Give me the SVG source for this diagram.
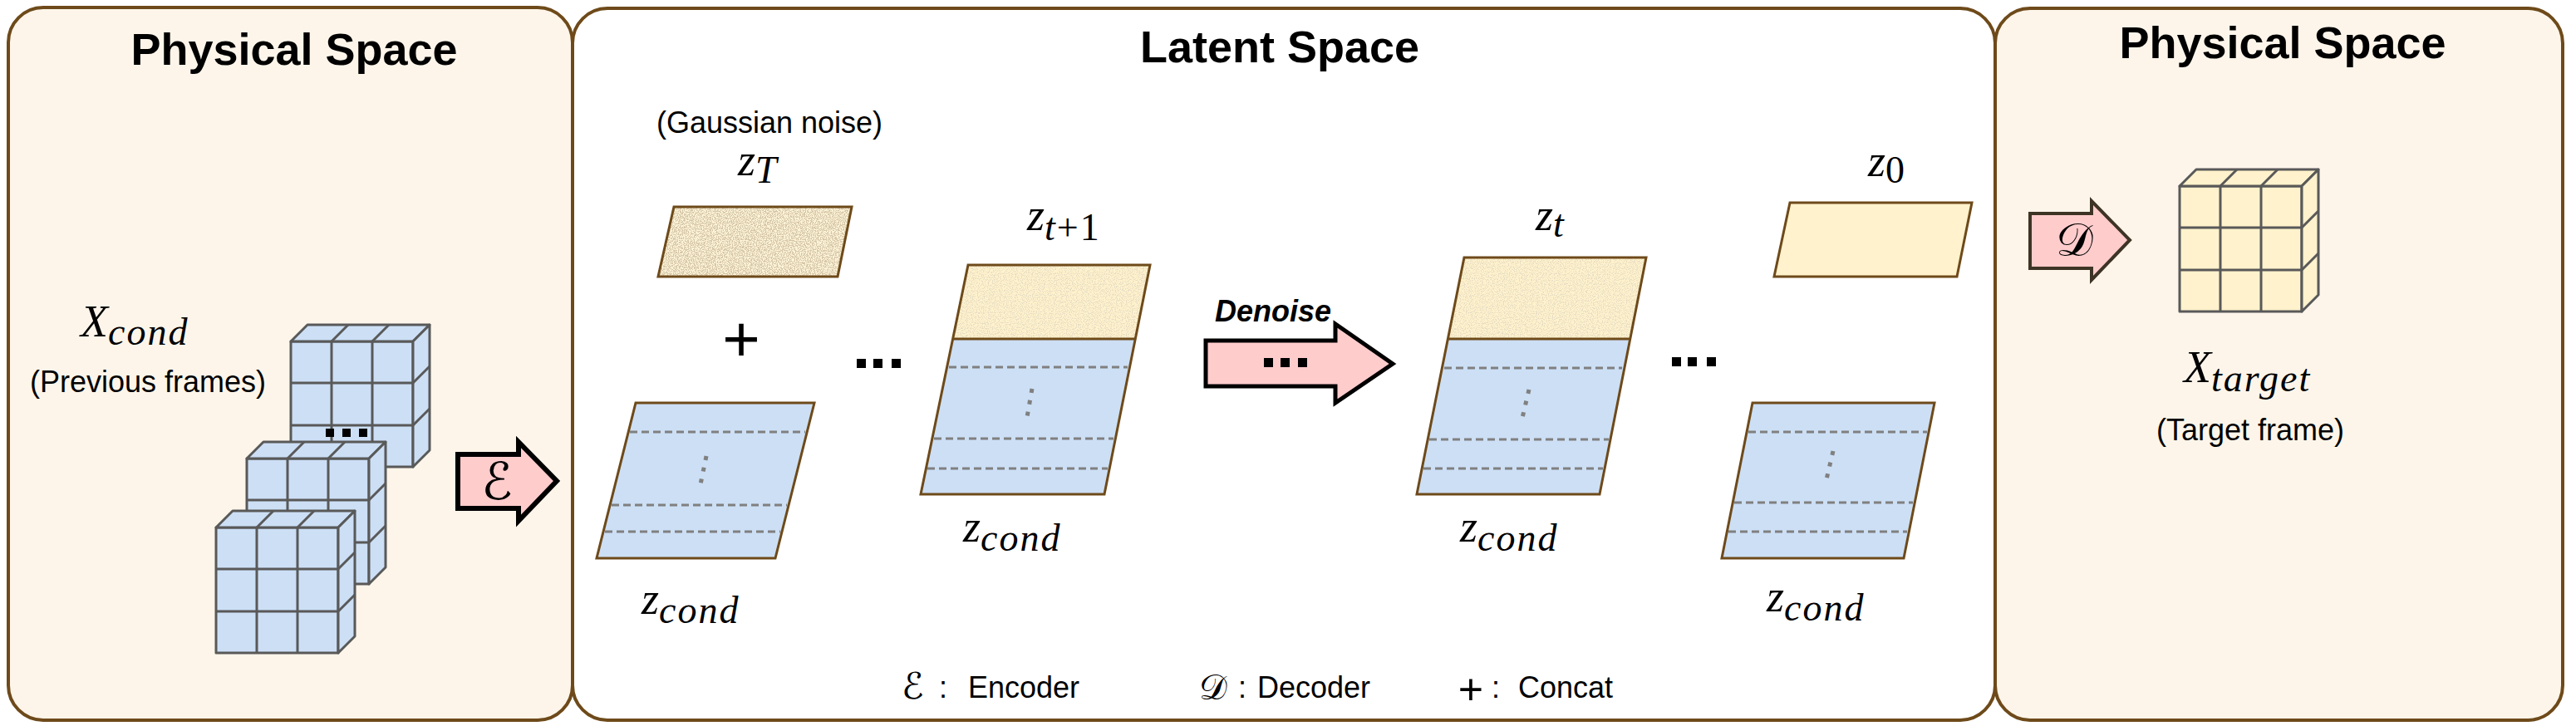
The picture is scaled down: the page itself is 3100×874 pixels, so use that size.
<svg xmlns="http://www.w3.org/2000/svg" width="3100" height="874" viewBox="0 0 3100 874">
<style>
.panel{stroke:#6E4A1A;stroke-width:4}
.phys{fill:#FDF5EA}
.lat{fill:#FFFFFF}
.title{font-family:"Liberation Sans",Arial,sans-serif;font-weight:bold;font-size:54px;fill:#000;text-anchor:middle}
.lbl{font-family:"Liberation Sans",Arial,sans-serif;font-size:36px;fill:#000}
.mid{text-anchor:middle}
.math{font-family:"Liberation Serif","Times New Roman",serif;font-style:italic;font-size:54px;fill:#000}
.sub{font-size:46px;letter-spacing:2px}
.up{font-style:normal}
.cubeln{stroke:#595959;stroke-width:3;stroke-linejoin:round}
.blue{fill:#CCDFF5}
.yel{fill:#FFF2CC}
.edge{fill:none;stroke:#6E4A1A;stroke-width:3}
.dash{stroke:#808080;stroke-width:3;stroke-dasharray:9 5}
.dots{stroke:#808080;stroke-width:5;stroke-dasharray:5 9}
.sq{fill:#000}
.arrow{fill:#FFCCCC;stroke-linejoin:miter}
.sym{font-family:"DejaVu Serif","DejaVu Sans",serif;fill:#000}
</style>
<defs>
<g id="cube">
<rect x="0" y="0" width="147" height="151"/>
<path d="M0,0 L20,-20 H167 L147,0 Z"/>
<path d="M147,0 L167,-20 V131 L147,151 Z"/>
<path fill="none" d="M49,0 V151 M98,0 V151 M0,50 H147 M0,101 H147 M49,0 L69,-20 M98,0 L118,-20 M147,50 L167,30 M147,101 L167,81"/>
</g>
<filter id="nzDark" x="0" y="0" width="1" height="1">
<feTurbulence type="fractalNoise" baseFrequency="0.85" numOctaves="1" seed="4" result="n"/>
<feColorMatrix in="n" type="matrix" values="0 0 0 0 0.66  0 0 0 0 0.56  0 0 0 0 0.38  10 0 0 0 -4.6" result="c"/>
<feComposite in="c" in2="SourceAlpha" operator="in"/>
</filter>
<filter id="nzLight" x="0" y="0" width="1" height="1">
<feTurbulence type="fractalNoise" baseFrequency="0.85" numOctaves="1" seed="9" result="n"/>
<feColorMatrix in="n" type="matrix" values="0 0 0 0 0.80  0 0 0 0 0.72  0 0 0 0 0.55  10 0 0 0 -5.0" result="c"/>
<feComposite in="c" in2="SourceAlpha" operator="in"/>
</filter>
</defs>
<rect x="0" y="0" width="3100" height="874" fill="#FFFFFF"/>

<g id="panel-physical-left">
<rect class="panel phys" x="10" y="9" width="679" height="858" rx="42" ry="42"/>
<text class="title" x="354" y="78">Physical Space</text>
</g>
<g id="panel-physical-right">
<rect class="panel phys" x="2401" y="10" width="683" height="857" rx="42" ry="42"/>
<text class="title" x="2747" y="70">Physical Space</text>
</g>
<g id="panel-latent">
<rect class="panel lat" x="689" y="10" width="1712" height="857" rx="42" ry="42"/>
<text class="title" x="1540" y="75">Latent Space</text>
</g>

<g id="x-cond">
<use href="#cube" class="cubeln blue" transform="translate(350,411)"/>
<rect class="sq" x="392" y="516" width="10" height="10"/>
<rect class="sq" x="412" y="516" width="10" height="10"/>
<rect class="sq" x="432" y="516" width="10" height="10"/>
<use href="#cube" class="cubeln blue" transform="translate(297,552)"/>
<use href="#cube" class="cubeln blue" transform="translate(260,635)"/>
<text class="math" x="97" y="405">X<tspan class="sub" dy="10">cond</tspan></text>
<text class="lbl mid" x="178" y="472">(Previous frames)</text>
</g>

<g id="z-T">
<text class="lbl mid" x="926" y="160">(Gaussian noise)</text>
<text class="math" x="888" y="211">z<tspan class="sub" dy="9">T</tspan></text>
<polygon fill="#FFF5DA" points="811,249 1025,249 1008,333 792,333"/>
<polygon fill="#000" filter="url(#nzDark)" points="811,249 1025,249 1008,333 792,333"/>
<polygon class="edge" stroke="#5A3A12" points="811,249 1025,249 1008,333 792,333"/>
</g>

<g id="concat-plus">
<text x="892" y="435" font-family="Liberation Sans, Arial, sans-serif" font-size="78" text-anchor="middle" fill="#000">+</text>
</g>

<g id="z-cond-1">
<polygon class="blue" points="765,485 980,485 933,672 718,672"/>
<line class="dash" x1="758" y1="520" x2="969" y2="520"/>
<line class="dash" x1="736" y1="608" x2="947" y2="608"/>
<line class="dash" x1="728" y1="640" x2="939" y2="640"/>
<line class="dots" x1="850" y1="549" x2="843" y2="583"/>
<polygon class="edge" points="765,485 980,485 933,672 718,672"/>
<text class="math" x="772" y="739">z<tspan class="sub" dy="11">cond</tspan></text>
</g>

<g id="ellipsis-1">
<rect class="sq" x="1031" y="432" width="11" height="11"/>
<rect class="sq" x="1051" y="432" width="11" height="11"/>
<rect class="sq" x="1073" y="432" width="11" height="11"/>
</g>

<g id="z-t-plus-1">
<text class="math" x="1236" y="277">z<tspan class="sub" dy="12">t<tspan class="up">+1</tspan></tspan></text>
<polygon class="yel" points="1165,319 1384,319 1366,408 1147,408"/>
<polygon fill="#000" filter="url(#nzLight)" points="1165,319 1384,319 1366,408 1147,408"/>
<polygon class="blue" points="1147,408 1366,408 1329,595 1108,595"/>
<line class="dash" x1="1142" y1="442" x2="1357" y2="442"/>
<line class="dash" x1="1124" y1="528" x2="1340" y2="528"/>
<line class="dash" x1="1116" y1="564" x2="1333" y2="564"/>
<line class="dots" x1="1242" y1="468" x2="1236" y2="502"/>
<polygon class="edge" points="1165,319 1384,319 1329,595 1108,595"/>
<line class="edge" x1="1147" y1="408" x2="1366" y2="408"/>
<text class="math" x="1159" y="652">z<tspan class="sub" dy="11">cond</tspan></text>
</g>

<g id="z-t">
<text class="math" x="1848" y="277">z<tspan class="sub" dy="8">t</tspan></text>
<polygon class="yel" points="1762,310 1981,310 1962,408 1742,408"/>
<polygon fill="#000" filter="url(#nzLight)" points="1762,310 1981,310 1962,408 1742,408"/>
<polygon class="blue" points="1742,408 1962,408 1925,595 1705,595"/>
<line class="dash" x1="1738" y1="443" x2="1952" y2="443"/>
<line class="dash" x1="1720" y1="529" x2="1936" y2="529"/>
<line class="dash" x1="1713" y1="564" x2="1929" y2="564"/>
<line class="dots" x1="1840" y1="469" x2="1832" y2="503"/>
<polygon class="edge" points="1762,310 1981,310 1925,595 1705,595"/>
<line class="edge" x1="1742" y1="408" x2="1962" y2="408"/>
<text class="math" x="1757" y="652">z<tspan class="sub" dy="11">cond</tspan></text>
</g>

<g id="ellipsis-2">
<rect class="sq" x="2012" y="430" width="11" height="11"/>
<rect class="sq" x="2031" y="430" width="11" height="11"/>
<rect class="sq" x="2054" y="430" width="11" height="11"/>
</g>

<g id="z-0">
<text class="math" x="2248" y="212">z<tspan class="sub up" dy="8">0</tspan></text>
<polygon class="edge" style="fill:#FFF2CC" points="2154,244 2373,244 2355,333 2135,333"/>
</g>

<g id="z-cond-4">
<polygon class="blue" points="2109,485 2328,485 2291,672 2072,672"/>
<line class="dash" x1="2104" y1="520" x2="2319" y2="520"/>
<line class="dash" x1="2087" y1="605" x2="2302" y2="605"/>
<line class="dash" x1="2080" y1="640" x2="2295" y2="640"/>
<line class="dots" x1="2206" y1="543" x2="2198" y2="577"/>
<polygon class="edge" points="2109,485 2328,485 2291,672 2072,672"/>
<text class="math" x="2126" y="736">z<tspan class="sub" dy="11">cond</tspan></text>
</g>

<g id="x-target">
<use href="#cube" class="cubeln yel" transform="translate(2623,224)"/>
<text class="math" x="2628" y="460">X<tspan class="sub" dy="11">target</tspan></text>
<text class="lbl mid" x="2708" y="530">(Target frame)</text>
</g>

<g id="connectors">
<g id="encoder-arrow">
<path class="arrow" stroke="#000" stroke-width="6" d="M551,547 H624 V532 L670,579 L624,627 V612 H551 Z"/>
<text class="sym" x="598" y="601" font-size="62" text-anchor="middle">ℰ</text>
</g>
<g id="denoise-arrow">
<text x="1462" y="387" font-family="Liberation Sans, Arial, sans-serif" font-weight="bold" font-style="italic" font-size="36" fill="#000">Denoise</text>
<path class="arrow" stroke="#000" stroke-width="5" d="M1451,410 H1607 V390 L1676,438 L1607,485 V465 H1451 Z"/>
<rect class="sq" x="1521" y="431" width="11" height="11"/>
<rect class="sq" x="1541" y="431" width="11" height="11"/>
<rect class="sq" x="1562" y="431" width="11" height="11"/>
</g>
<g id="decoder-arrow">
<path class="arrow" stroke="#3E3426" stroke-width="4" d="M2443,257 H2517 V242 L2563,289 L2517,337 V323 H2443 Z"/>
<text class="sym" x="2496" y="308" font-size="56" text-anchor="middle">𝒟</text>
</g>
</g>

<g id="legend">
<text class="sym" x="1085" y="841" font-size="44">ℰ</text>
<text class="lbl" x="1130" y="840">:</text>
<text class="lbl" x="1165" y="840">Encoder</text>
<text class="sym" x="1443" y="842" font-size="42">𝒟</text>
<text class="lbl" x="1490" y="840">:</text>
<text class="lbl" x="1513" y="840">Decoder</text>
<text x="1770" y="848" font-family="Liberation Sans, Arial, sans-serif" font-size="52" text-anchor="middle" fill="#000">+</text>
<text class="lbl" x="1795" y="840">:</text>
<text class="lbl" x="1827" y="840">Concat</text>
</g>
</svg>
